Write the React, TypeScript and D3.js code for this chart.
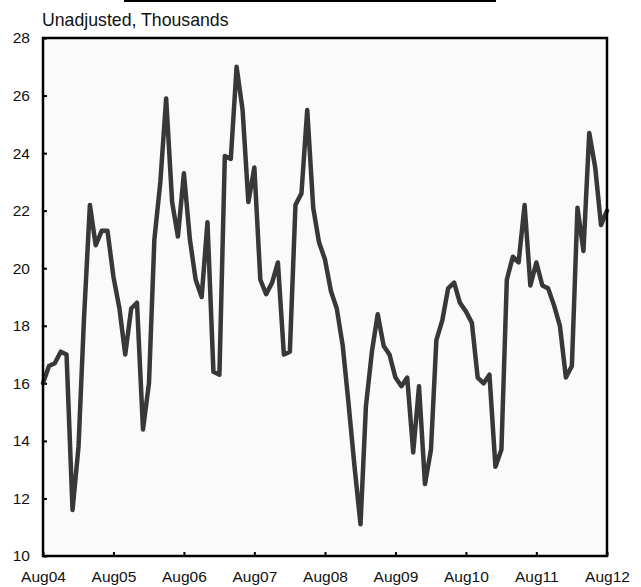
import { useEffect, useRef } from "react";
import * as d3 from "d3";

// Monthly values, Aug 2004 to Aug 2012 (thousands, unadjusted)
const startMonth = new Date(2004, 7, 1);
const values = [
    16.0, 16.6, 16.7, 17.1, 17.0, 11.6, 13.8, 18.2, 22.2, 20.8, 21.3, 21.3,
    19.7, 18.6, 17.0, 18.6, 18.8, 14.4, 16.0, 21.0, 23.0, 25.9, 22.3, 21.1,
    23.3, 21.0, 19.6, 19.0, 21.6, 16.4, 16.3, 23.9, 23.8, 27.0, 25.5, 22.3,
    23.5, 19.6, 19.1, 19.5, 20.2, 17.0, 17.1, 22.2, 22.6, 25.5, 22.1, 20.9,
    20.3, 19.2, 18.6, 17.3, 15.3, 13.1, 11.1, 15.2, 17.1, 18.4, 17.3, 17.0,
    16.2, 15.9, 16.2, 13.6, 15.9, 12.5, 13.7, 17.5, 18.2, 19.3, 19.5, 18.8,
    18.5, 18.1, 16.2, 16.0, 16.3, 13.1, 13.7, 19.6, 20.4, 20.2, 22.2, 19.4,
    20.2, 19.4, 19.3, 18.7, 18.0, 16.2, 16.6, 22.1, 20.6, 24.7, 23.5, 21.5,
    22.0,
];
const yTicks = [10, 12, 14, 16, 18, 20, 22, 24, 26, 28];
const xTickYears = [2004, 2005, 2006, 2007, 2008, 2009, 2010, 2011, 2012];

const FONT = "Liberation Sans, Arial, sans-serif";

export default function App() {
    const svgRef = useRef<SVGSVGElement | null>(null);

    useEffect(() => {
        if (!svgRef.current) return;
        d3.select(svgRef.current).selectAll("*").remove();

        const width = 641;
        const height = 587;
        const margin = { top: 38, right: 34, bottom: 31, left: 43 };
        const innerWidth = width - margin.left - margin.right;
        const innerHeight = height - margin.top - margin.bottom;

        const svg = d3.select(svgRef.current).attr("width", width).attr("height", height);

        // Short rule across the top
        svg.append("line")
            .attr("x1", 124)
            .attr("x2", 496)
            .attr("y1", 1)
            .attr("y2", 1)
            .attr("stroke", "#000")
            .attr("stroke-width", 2);

        svg.append("text")
            .attr("x", margin.left - 1)
            .attr("y", 26)
            .attr("font-family", FONT)
            .attr("font-size", "17.7px")
            .attr("fill", "#111")
            .text("Unadjusted, Thousands");

        const data = values.map((v, i) => ({ date: d3.timeMonth.offset(startMonth, i), value: v }));

        const x = d3
            .scaleTime()
            .domain([startMonth, new Date(2012, 7, 1)])
            .range([0, innerWidth]);
        const y = d3.scaleLinear().domain([10, 28]).range([innerHeight, 0]);

        const g = svg.append("g").attr("transform", `translate(${margin.left},${margin.top})`);

        g.append("rect")
            .attr("width", innerWidth)
            .attr("height", innerHeight)
            .attr("fill", "#fafafa");

        // Y axis: ticks point inward
        const yAxis = g
            .append("g")
            .call(
                d3
                    .axisLeft(y)
                    .tickValues(yTicks)
                    .tickSize(-4)
                    .tickPadding(13)
                    .tickFormat((d) => `${d}`)
            );
        yAxis.select(".domain").remove();
        yAxis.selectAll("line").attr("stroke", "#000").attr("stroke-width", 2);
        yAxis
            .selectAll("text")
            .attr("font-family", FONT)
            .attr("font-size", "15.5px")
            .attr("fill", "#111");

        // X axis: ticks point up from the bottom
        const xAxis = g
            .append("g")
            .attr("transform", `translate(0,${innerHeight})`)
            .call(
                d3
                    .axisBottom(x)
                    .tickValues(xTickYears.map((yr) => new Date(yr, 7, 1)))
                    .tickSize(-4)
                    .tickPadding(15)
                    .tickFormat((d) => d3.timeFormat("Aug%y")(d as Date))
            );
        xAxis.select(".domain").remove();
        xAxis.selectAll("line").attr("stroke", "#000").attr("stroke-width", 2);
        xAxis
            .selectAll("text")
            .attr("font-family", FONT)
            .attr("font-size", "15.5px")
            .attr("fill", "#111");

        const line = d3
            .line<{ date: Date; value: number }>()
            .x((d) => x(d.date))
            .y((d) => y(d.value));

        g.append("path")
            .datum(data)
            .attr("d", line)
            .attr("fill", "none")
            .attr("stroke", "#383838")
            .attr("stroke-width", 4.5)
            .attr("stroke-linejoin", "round")
            .attr("stroke-linecap", "round");

        // Frame
        g.append("rect")
            .attr("width", innerWidth)
            .attr("height", innerHeight)
            .attr("fill", "none")
            .attr("stroke", "#000")
            .attr("stroke-width", 2.5);
    }, []);

    return (
        <svg
            ref={svgRef}
            style={{ position: "absolute", left: 0, top: 0, background: "#fff" }}
        />
    );
}
